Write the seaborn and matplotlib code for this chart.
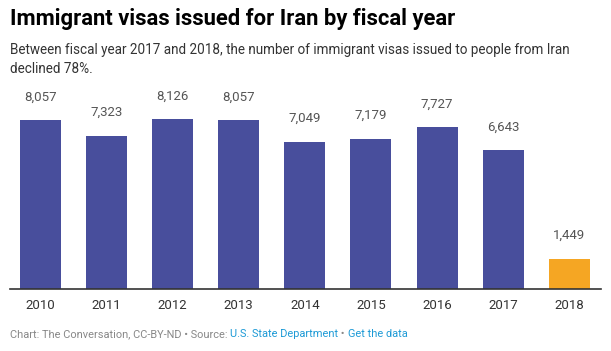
"""
Immigrant visas issued for Iran by fiscal year
"""
import matplotlib
matplotlib.use('Agg')
import pandas as pd
import seaborn as sns
from matplotlib import pyplot as plt

years = ['2010', '2011', '2012', '2013', '2014', '2015', '2016', '2017', '2018']
visas = [8057, 7323, 8126, 8057, 7049, 7179, 7727, 6643, 1449]
bar_colors = ['#484e9c'] * 8 + ['#f5a623']

sns.set_style('white')
plt.rcParams['font.family'] = ['Roboto', 'DejaVu Sans']

df = pd.DataFrame({'year': years, 'visas': visas})

W, H = 611, 351
fig = plt.figure(figsize=(W / 100, H / 100), dpi=100)
# axes in pixel coords: baseline at y=289, left 10, right 601
ymax = 9000
px_per_unit = 170 / 8126
top_px = 289 - ymax * px_per_unit
ax = fig.add_axes([10 / W, (H - 289) / H, 591 / W, (289 - top_px) / H])

sns.barplot(data=df, x='year', y='visas', hue='year', palette=bar_colors,
            legend=False, width=0.62, saturation=1, linewidth=0, ax=ax)
ax.set_xlim(-0.46, 8.48)
ax.set_ylim(0, ymax)
ax.set_xlabel('')
ax.set_ylabel('')
ax.set_yticks([])
for side in ['left', 'right', 'top']:
    ax.spines[side].set_visible(False)
ax.spines['bottom'].set_color('#333333')
ax.spines['bottom'].set_linewidth(1.2)
ax.tick_params(axis='x', length=0, pad=7, labelsize=9.5, labelcolor='#333333')

for i, v in enumerate(visas):
    ax.annotate(f'{v:,}', (i, v), xytext=(0, 12), textcoords='offset points',
                ha='center', va='bottom', fontsize=9.5, color='#555555')

fig.text(10 / W, 1 - 19 / H, 'Immigrant visas issued for Iran by fiscal year',
         fontsize=15.8, fontweight='bold', color='#000000', va='center')
fig.text(10 / W, 1 - 50 / H,
         'Between fiscal year 2017 and 2018, the number of immigrant visas issued to people from Iran',
         fontsize=9.75, color='#333333', va='center')
fig.text(10 / W, 1 - 69 / H, 'declined 78%.', fontsize=9.75, color='#333333', va='center')

# footer
foot_y = 1 - 334 / H
fs = 7.9
t = fig.text(10 / W, foot_y, 'Chart: The Conversation, CC-BY-ND • Source: ',
             fontsize=fs, color='#888888', va='center')
fig.canvas.draw()
r = fig.canvas.get_renderer()
x = t.get_window_extent(r).x1
t2 = fig.text(x / W, foot_y, 'U.S. State Department', fontsize=fs, color='#1d9ad6', va='center')
x = t2.get_window_extent(r).x1
t3 = fig.text(x / W, foot_y, ' • ', fontsize=fs, color='#888888', va='center')
x = t3.get_window_extent(r).x1
fig.text(x / W, foot_y, 'Get the data', fontsize=fs, color='#1d9ad6', va='center')

fig.savefig('out.png', dpi=100)
